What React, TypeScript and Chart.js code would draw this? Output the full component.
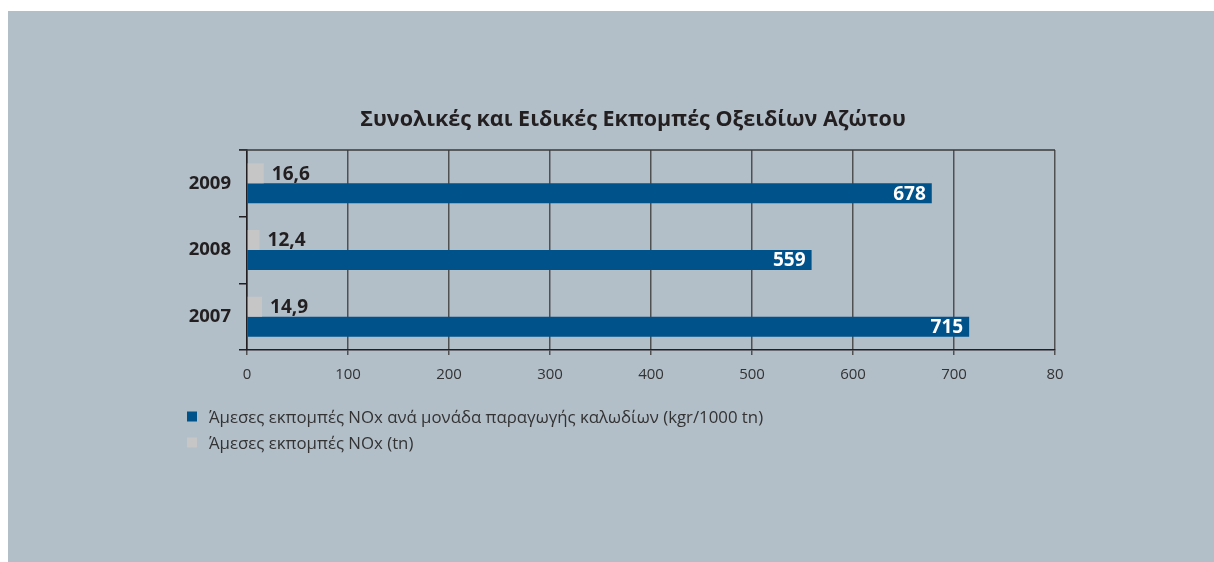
import React, { useEffect, useRef } from 'react';
import { Chart, registerables } from 'chart.js';

Chart.register(...registerables);

const chartTitle = 'Συνολικές και Ειδικές Εκπομπές Οξειδίων Αζώτου';
const years = ['2009', '2008', '2007'];
const totalNOx = [16.6, 12.4, 14.9]; // tn
const specificNOx = [678, 559, 715]; // kgr/1000 tn
const xTickLabels = ['0', '100', '200', '300', '400', '500', '600', '700', '80'];
const legendLabels = [
  'Άμεσες εκπομπές NOx ανά μονάδα παραγωγής καλωδίων (kgr/1000 tn)',
  'Άμεσες εκπομπές NOx (tn)',
];

const BLUE = '#00528a';
const GREY = '#c6c6c6';
const DARK = '#231f20';
const PANEL = '#b2bec8';
const NUM_FONT = '"Open Sans", "Noto Sans", sans-serif';
const TEXT_FONT = '"Open Sans", "Noto Sans", sans-serif';

const fmt = (v: number) => String(v).replace('.', ',');

const decorPlugin = {
  id: 'decor',
  afterDatasetsDraw(chart: any) {
    const ctx = chart.ctx;
    const area = chart.chartArea;
    ctx.save();
    // top frame line
    ctx.strokeStyle = '#3a3a3a';
    ctx.lineWidth = 1.5;
    ctx.beginPath();
    ctx.moveTo(area.left - 8, area.top);
    ctx.lineTo(area.right, area.top);
    ctx.stroke();

    ctx.font = `bold 19px ${NUM_FONT}`;
    ctx.textBaseline = 'middle';
    const m0 = chart.getDatasetMeta(0);
    m0.data.forEach((el: any, i: number) => {
      ctx.fillStyle = DARK;
      ctx.textAlign = 'left';
      ctx.fillText(fmt(totalNOx[i]), el.x + 8, el.y + 1);
    });
    const m1 = chart.getDatasetMeta(1);
    m1.data.forEach((el: any, i: number) => {
      ctx.fillStyle = '#ffffff';
      ctx.textAlign = 'right';
      ctx.fillText(fmt(specificNOx[i]), el.x - 6, el.y + 1);
    });
    ctx.restore();
  },
  afterDraw(chart: any) {
    const ctx = chart.ctx;
    ctx.save();
    // title
    ctx.fillStyle = DARK;
    ctx.font = `bold 21.5px ${TEXT_FONT}`;
    ctx.textAlign = 'center';
    ctx.textBaseline = 'alphabetic';
    ctx.fillText(chartTitle, 625, 115);
    // legend
    const colors = [BLUE, GREY];
    ctx.font = `16.8px ${TEXT_FONT}`;
    ctx.textAlign = 'left';
    legendLabels.forEach((t, i) => {
      const y = 400.5 + i * 26;
      ctx.fillStyle = colors[i];
      ctx.fillRect(179, y, 10, 10);
      ctx.fillStyle = '#333333';
      ctx.fillText(t, 201, y + 11);
    });
    ctx.restore();
  },
};

export default function App() {
  const ref = useRef<HTMLCanvasElement | null>(null);
  useEffect(() => {
    if (!ref.current) return;
    const chart = new Chart(ref.current, {
      type: 'bar',
      data: {
        labels: years,
        datasets: [
          {
            label: legendLabels[1],
            data: totalNOx,
            backgroundColor: GREY,
            categoryPercentage: 0.6,
            barPercentage: 1,
          },
          {
            label: legendLabels[0],
            data: specificNOx,
            backgroundColor: BLUE,
            categoryPercentage: 0.6,
            barPercentage: 1,
          },
        ],
      },
      options: {
        indexAxis: 'y',
        responsive: true,
        maintainAspectRatio: false,
        animation: false,
        layout: { padding: { left: 0, right: 159, top: 139, bottom: 172 } },
        plugins: {
          legend: { display: false },
          tooltip: { enabled: false },
          title: { display: false },
        },
        scales: {
          x: {
            min: 0,
            max: 800,
            afterFit: (s: any) => {
              s.height = 40;
            },
            ticks: {
              stepSize: 100,
              padding: 11,
              color: '#333333',
              font: { family: NUM_FONT, size: 15 },
              callback: (_v: any, i: number) => xTickLabels[i],
            },
            grid: {
              color: '#505050',
              lineWidth: 1.5,
              tickLength: 5,
              drawTicks: true,
            },
            border: { display: true, color: DARK, width: 1.5 },
          },
          y: {
            afterFit: (s: any) => {
              s.width = 239;
            },
            ticks: {
              padding: 8,
              color: DARK,
              font: { family: NUM_FONT, size: 18.5, weight: 'bold' },
            },
            grid: {
              drawOnChartArea: false,
              drawTicks: true,
              tickLength: 8,
              color: DARK,
              lineWidth: 1.5,
            },
            border: { display: true, color: DARK, width: 1.5 },
          },
        },
      },
      plugins: [decorPlugin],
    });
    return () => chart.destroy();
  }, []);

  return (
    <div
      style={{
        position: 'fixed',
        left: 8,
        top: 11,
        width: 1206,
        height: 551,
        background: PANEL,
      }}
    >
      <canvas ref={ref} />
    </div>
  );
}
